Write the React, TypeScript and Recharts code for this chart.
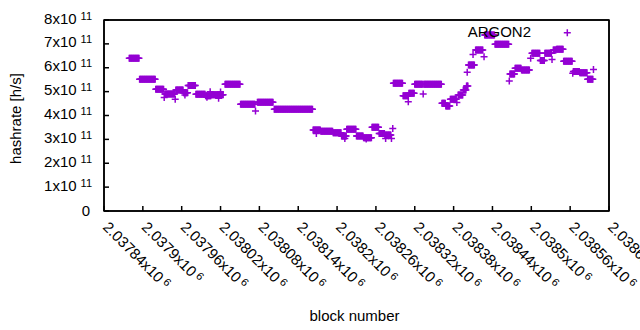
import React from 'react';
import { ScatterChart, Scatter, XAxis, YAxis, Legend, ReferenceArea } from 'recharts';

const PURPLE = '#9400D3';
const FONT = '"Liberation Sans", Arial, Helvetica, sans-serif';
const LW = 1.5;

// Runs of consecutive blocks that share one hashrate estimate (block from, block to, hashrate)
const runStart = [
  2037879, 2037895, 2037920, 2037934, 2037951, 2037963, 2037970, 2037982, 2037997, 2038006,
  2038027, 2038051, 2038077, 2038103, 2038163, 2038175, 2038194, 2038207, 2038215, 2038230,
  2038241, 2038254, 2038265, 2038274, 2038287, 2038302, 2038311, 2038320, 2038334, 2038362,
  2038368, 2038375, 2038387, 2038395, 2038400, 2038403, 2038414, 2038428, 2038444, 2038467,
  2038475, 2038485, 2038501, 2038514, 2038521, 2038534, 2038539, 2038550, 2038565, 2038575,
  2038587,
];
const runEnd = [
  2037894, 2037919, 2037932, 2037949, 2037962, 2037969, 2037981, 2037996, 2038005, 2038024,
  2038050, 2038073, 2038101, 2038162, 2038174, 2038193, 2038206, 2038214, 2038229, 2038240,
  2038253, 2038264, 2038273, 2038283, 2038301, 2038310, 2038319, 2038332, 2038361, 2038367,
  2038374, 2038384, 2038394, 2038399, 2038402, 2038412, 2038425, 2038443, 2038465, 2038474,
  2038484, 2038497, 2038513, 2038520, 2038531, 2038538, 2038549, 2038563, 2038574, 2038586,
  2038595,
];
const runRate = [
  6.40e11, 5.52e11, 5.10e11, 4.90e11, 5.07e11, 4.95e11, 5.26e11, 4.89e11, 4.83e11, 4.87e11,
  5.31e11, 4.47e11, 4.55e11, 4.26e11, 3.39e11, 3.34e11, 3.28e11, 3.14e11, 3.42e11, 3.14e11,
  3.07e11, 3.51e11, 3.25e11, 3.18e11, 5.35e11, 4.83e11, 4.93e11, 5.31e11, 5.31e11, 4.51e11,
  4.40e11, 4.68e11, 4.86e11, 5.07e11, 5.24e11, 6.12e11, 6.74e11, 7.37e11, 6.98e11, 5.74e11,
  5.98e11, 5.91e11, 6.61e11, 6.30e11, 6.61e11, 6.74e11, 6.77e11, 6.27e11, 5.84e11, 5.79e11,
  5.52e11,
];

// Single scattered blocks
const soloBlock = [
  2037933, 2037950, 2037965, 2037999, 2038004, 2038017, 2038020, 2038074, 2038168, 2038212,
  2038245, 2038275, 2038284, 2038286, 2038310, 2038333, 2038385, 2038401, 2038410, 2038427,
  2038466, 2038499, 2038532, 2038564, 2038596,
];
const soloRate = [
  4.75e11, 4.68e11, 4.86e11, 4.76e11, 5.00e11, 4.72e11, 4.98e11, 4.19e11, 3.25e11, 3.04e11,
  3.02e11, 3.04e11, 3.04e11, 3.46e11, 4.58e11, 4.90e11, 4.54e11, 5.81e11, 6.56e11, 6.46e11,
  5.44e11, 6.40e11, 6.35e11, 5.77e11, 5.93e11,
];

const xDomain: [number, number] = [2037840, 2038620];
const yDomain: [number, number] = [0, 8e11];
const xTicks = [
  2037840, 2037900, 2037960, 2038020, 2038080, 2038140, 2038200,
  2038260, 2038320, 2038380, 2038440, 2038500, 2038560, 2038620,
];
const yTicks = [0, 1e11, 2e11, 3e11, 4e11, 5e11, 6e11, 7e11, 8e11];

const points: { block: number; rate: number }[] = [];
runStart.forEach((s, i) => {
  for (let b = s; b <= runEnd[i]; b++) points.push({ block: b, rate: runRate[i] });
});
soloBlock.forEach((b, i) => points.push({ block: b, rate: soloRate[i] }));

const Plus = (props: any) => {
  const { cx, cy } = props;
  if (cx == null || cy == null) return null;
  return (
    <path
      d={`M${cx - 3.5},${cy}h7M${cx},${cy - 3.5}v7`}
      stroke={PURPLE}
      strokeWidth={1.5}
      fill="none"
    />
  );
};

const XTick = (props: any) => {
  const { x, y, payload } = props;
  const label = parseFloat((payload.value / 1e6).toFixed(5)).toString();
  return (
    <g>
      <path d={`M${x},${y}V${y - 5}`} stroke="#000" strokeWidth={LW} fill="none" />
      <text
        transform={`translate(${x - 2},${y + 17}) rotate(45)`}
        fontSize={15}
        fontFamily={FONT}
        fill="#000"
        textAnchor="start"
      >
        {label}x10
        <tspan dx={3} dy={-4} fontSize={11}>6</tspan>
      </text>
    </g>
  );
};

const YTick = (props: any) => {
  const { x, y, payload } = props;
  const v = Math.round(payload.value / 1e11);
  return (
    <g>
      <path d={`M${x},${y}H${x + 5}`} stroke="#000" strokeWidth={LW} fill="none" />
      {v === 0 ? (
        <text x={x - 14} y={y + 5} textAnchor="end" fontSize={15} fontFamily={FONT} fill="#000">0</text>
      ) : (
        <text x={x - 12} y={y + 3.5} textAnchor="end" fontSize={15} fontFamily={FONT} fill="#000">
          {v}x10
          <tspan dx={4} dy={-4} fontSize={11}>11</tspan>
        </text>
      )}
    </g>
  );
};

// Key and axis titles drawn on an overlay layer
const LegendBox = () => (
  <svg width={640} height={330} style={{ position: 'absolute', left: 0, top: 0, overflow: 'visible' }}>
    <text x={531} y={37} textAnchor="end" fontSize={15} fontFamily={FONT} fill="#000">ARGON2</text>
    <path d="M563.8,32.7h7M567.3,29.2v7" stroke={PURPLE} strokeWidth={1.5} fill="none" />
    <text x={21} y={118.5} transform="rotate(-90, 21, 118.5)" textAnchor="middle" fontSize={15} fontFamily={FONT} fill="#000">
      hashrate [h/s]
    </text>
    <text x={354.5} y={321} textAnchor="middle" fontSize={15} fontFamily={FONT} fill="#000">block number</text>
  </svg>
);

export default function App() {
  return (
    <div style={{ position: 'absolute', left: 0, top: 0, width: 640, height: 330, background: '#fff' }}>
      <ScatterChart width={640} height={330} margin={{ top: 20, right: 31, bottom: 0, left: 0 }}>
        <XAxis
          xAxisId="main"
          dataKey="block"
          type="number"
          domain={xDomain}
          ticks={xTicks}
          interval={0}
          height={119}
          tickSize={0}
          tickMargin={0}
          stroke="#000"
          strokeWidth={LW}
          tickLine={false}
          tick={<XTick />}
          allowDataOverflow
        />
        <XAxis
          xAxisId="top"
          orientation="top"
          mirror
          type="number"
          domain={xDomain}
          ticks={xTicks}
          interval={0}
          height={30}
          tickSize={5}
          stroke="#000"
          strokeWidth={LW}
          tick={false}
          allowDataOverflow
        />
        <YAxis
          yAxisId="main"
          dataKey="rate"
          type="number"
          domain={yDomain}
          ticks={yTicks}
          interval={0}
          width={104}
          tickSize={0}
          tickMargin={0}
          stroke="#000"
          strokeWidth={LW}
          tickLine={false}
          tick={<YTick />}
          allowDataOverflow
        />
        <YAxis
          yAxisId="right"
          orientation="right"
          mirror
          type="number"
          domain={yDomain}
          ticks={yTicks}
          interval={0}
          width={30}
          tickSize={5}
          stroke="#000"
          strokeWidth={LW}
          tick={false}
          allowDataOverflow
        />
        <ReferenceArea
          xAxisId="main"
          yAxisId="main"
          x1={xDomain[0]}
          x2={xDomain[1]}
          y1={yDomain[0]}
          y2={yDomain[1]}
          fill="#fff"
          fillOpacity={0}
          stroke="#000"
          strokeWidth={LW}
        />
        <Legend
          layout="horizontal"
          verticalAlign="middle"
          align="center"
          wrapperStyle={{ position: 'absolute', left: 0, top: 0, width: 640, height: 330, pointerEvents: 'none' }}
          content={<LegendBox />}
        />
        <Scatter
          name="ARGON2"
          data={points}
          xAxisId="main"
          yAxisId="main"
          fill={PURPLE}
          shape={<Plus />}
          isAnimationActive={false}
        />
      </ScatterChart>
    </div>
  );
}
